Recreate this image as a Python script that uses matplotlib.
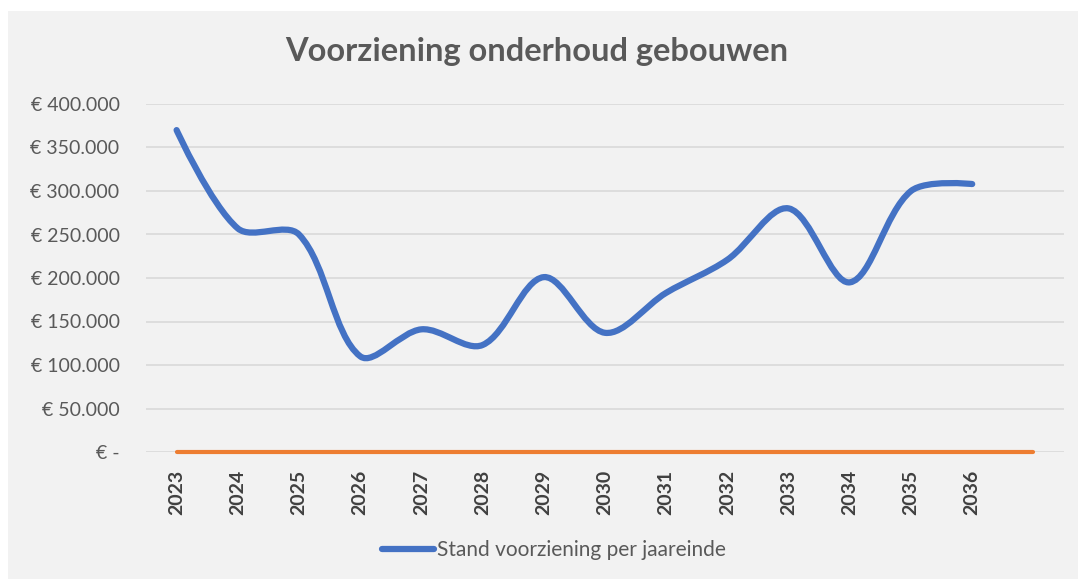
import matplotlib
matplotlib.use("Agg")
import numpy as np
import matplotlib.pyplot as plt
from matplotlib.path import Path
from matplotlib.patches import PathPatch, Rectangle
from matplotlib.lines import Line2D

years = ["2023", "2024", "2025", "2026", "2027", "2028", "2029", "2030",
         "2031", "2032", "2033", "2034", "2035", "2036", ""]
stand = [370000, 257000, 250000, 110000, 141000, 123000, 201000, 137000,
         183000, 221000, 280000, 195000, 300000, 308000]
nul_lijn = [0] * 15
yticks = [0, 50000, 100000, 150000, 200000, 250000, 300000, 350000, 400000]

title = "Voorziening onderhoud gebouwen"
legend_label = "Stand voorziening per jaareinde"

FONT = ["Lato", "DejaVu Sans"]
TXT = "#595959"

W, H = 1078, 579
fig = plt.figure(figsize=(W / 100, H / 100), dpi=100, facecolor="white")
fig.patches.append(Rectangle((8 / W, 0), 1 - 8 / W, (H - 11) / H,
                             transform=fig.transFigure, facecolor="#F2F2F2",
                             edgecolor="none", zorder=-10))

ax = fig.add_axes([146 / W, (H - 452) / H, 918 / W, 348 / H])
ax.set_facecolor("none")
ax.set_xlim(-0.5, len(years) - 0.5)
ax.set_ylim(0, 400000)
for s in ax.spines.values():
    s.set_visible(False)

ax.set_yticks(yticks)
ax.set_yticklabels(["€ -" if v == 0 else "€ " + f"{v:,.0f}".replace(",", ".") for v in yticks],
                   fontfamily=FONT, fontsize=14, color=TXT)
ax.tick_params(axis="y", length=0, pad=19)
ax.grid(axis="y", color="#D9D9D9", linewidth=1.2)
ax.set_axisbelow(True)

ax.set_xticks(range(len(years)))
ax.set_xticklabels(years, rotation=90, fontfamily=FONT, fontsize=14,
                   fontweight="bold", color="#404040", va="top")
ax.tick_params(axis="x", length=0, pad=13)

# orange zero series
ax.plot(range(len(nul_lijn)), nul_lijn, color="#ED7D31", linewidth=3,
        solid_capstyle="round", clip_on=False, zorder=3)

# smoothed blue series (Excel-style Bezier smoothing through the data points,
# control points weighted by the on-screen segment lengths)
disp = ax.transData.transform(np.column_stack([np.arange(len(stand)), stand]))
n = len(disp)
inv = ax.transData.inverted()
verts = [disp[0]]
codes = [Path.MOVETO]
TENS = 1 / 3
def ctrl(i):
    p = disp[i]
    if i == 0 or i == n - 1:
        return p, p
    p_prev = disp[i - 1]
    p_next = disp[i + 1]
    d0 = np.hypot(*(p - p_prev))
    d1 = np.hypot(*(p_next - p))
    T = p_next - p_prev
    tot = d0 + d1 if d0 + d1 > 0 else 1
    return p - T * TENS * d0 / tot, p + T * TENS * d1 / tot
for i in range(n - 1):
    _, c1 = ctrl(i)
    c2, _ = ctrl(i + 1)
    verts += [c1, c2, disp[i + 1]]
    codes += [Path.CURVE4] * 3
verts = inv.transform(np.array(verts))
ax.add_patch(PathPatch(Path(verts, codes), facecolor="none", edgecolor="#4472C4",
                       linewidth=4.5, capstyle="round", joinstyle="round", zorder=4,
                       clip_on=False))

fig.text(537 / W, 1 - 52 / H, title, ha="center", va="center", fontfamily=FONT,
         fontsize=23.5, fontweight="bold", color=TXT)

handle = Line2D([], [], color="#4472C4", linewidth=4.5, solid_capstyle="round")
fig.legend([handle], [legend_label], loc="center", bbox_to_anchor=(554 / W, 1 - 550 / H),
           frameon=False, prop={"family": FONT, "size": 15}, labelcolor=TXT,
           handlelength=2.5, handletextpad=0.15)

fig.savefig("out.png", dpi=100, facecolor="white")
